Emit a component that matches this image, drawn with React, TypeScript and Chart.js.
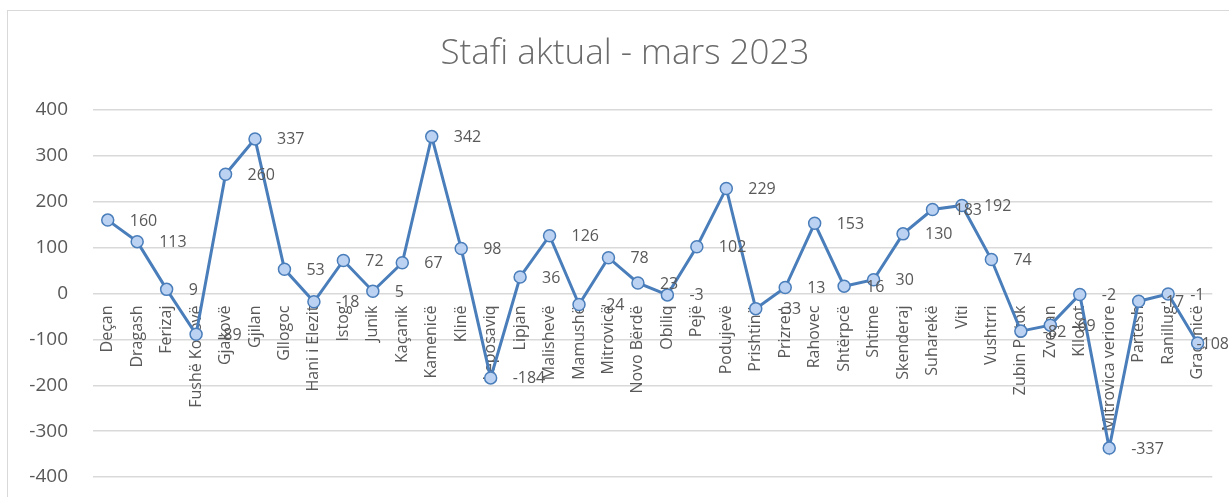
import React, { useEffect, useRef } from "react";
import { Chart, registerables } from "chart.js";

Chart.register(...registerables);

const TITLE = "Stafi aktual - mars 2023";

const categories = [
  "Deçan", "Dragash", "Ferizaj", "Fushë Kosovë", "Gjakovë", "Gjilan", "Gllogoc",
  "Hani i Elezit", "Istog", "Junik", "Kaçanik", "Kamenicë", "Klinë", "Leposaviq",
  "Lipjan", "Malishevë", "Mamushë", "Mitrovicë", "Novo Bërdë", "Obiliq", "Pejë",
  "Podujevë", "Prishtinë", "Prizren", "Rahovec", "Shtërpcë", "Shtime", "Skenderaj",
  "Suharekë", "Viti", "Vushtrri", "Zubin Potok", "Zveçan", "Kllokot",
  "Mitrovica veriore", "Partesh", "Ranillug", "Graçanicë",
];

const values = [
  160, 113, 9, -89, 260, 337, 53,
  -18, 72, 5, 67, 342, 98, -184,
  36, 126, -24, 78, 23, -3, 102,
  229, -33, 13, 153, 16, 30, 130,
  183, 192, 74, -82, -69, -2,
  -337, -17, -1, -108,
];

const yMin = -400;
const yMax = 400;
const yStep = 100;

const FONT = "'Open Sans', sans-serif";
const TEXT = "#595959";

const titlePlugin = {
  id: "customTitle",
  afterDraw(chart: any) {
    const ctx = chart.ctx;
    ctx.save();
    ctx.font = `300 35px ${FONT}`;
    ctx.fillStyle = "#6b6b6b";
    ctx.textAlign = "center";
    ctx.textBaseline = "middle";
    ctx.fillText(TITLE, 617, 43);
    ctx.restore();
  },
};

const dataLabelPlugin = {
  id: "valueLabels",
  afterDatasetsDraw(chart: any) {
    const ctx = chart.ctx;
    const meta = chart.getDatasetMeta(0);
    ctx.save();
    ctx.font = `16px ${FONT}`;
    ctx.fillStyle = TEXT;
    ctx.textAlign = "left";
    ctx.textBaseline = "middle";
    meta.data.forEach((pt: any, i: number) => {
      const txt = String(values[i]);
      const w = ctx.measureText(txt).width;
      const x = Math.min(pt.x + 22, chart.width - w);
      ctx.fillText(txt, x, pt.y + 1);
    });
    ctx.restore();
  },
};

export default function App() {
  const ref = useRef<HTMLCanvasElement | null>(null);

  useEffect(() => {
    if (!ref.current) return;
    const chart = new Chart(ref.current, {
      type: "line",
      data: {
        labels: categories,
        datasets: [
          {
            data: values,
            borderColor: "#4a7ebb",
            borderWidth: 3,
            pointRadius: 6,
            pointHoverRadius: 6,
            pointBackgroundColor: "#bcd2f2",
            pointBorderColor: "#4a7ebb",
            pointBorderWidth: 1.5,
            tension: 0,
            fill: false,
          },
        ],
      },
      options: {
        responsive: false,
        animation: false,
        layout: { padding: { left: 0, right: 16, top: 99, bottom: 20 } },
        plugins: {
          legend: { display: false },
          title: { display: false },
          tooltip: { enabled: false },
        },
        scales: {
          x: {
            type: "category",
            offset: true,
            position: { y: 0 } as any,
            grid: { display: false, drawTicks: false },
            border: { display: false },
            ticks: {
              autoSkip: false,
              maxRotation: 90,
              minRotation: 90,
              padding: 12,
              color: TEXT,
              font: { family: FONT, size: 16 },
            },
            afterFit: (s: any) => {
              s.height = 0;
            },
          },
          y: {
            min: yMin,
            max: yMax,
            grid: { color: "#d9d9d9", lineWidth: 1.5, drawTicks: false },
            border: { display: false },
            ticks: {
              stepSize: yStep,
              padding: 25,
              color: TEXT,
              font: { family: FONT, size: 19 },
            },
            afterFit: (s: any) => {
              s.width = 85;
              s.paddingTop = 10;
              s.paddingBottom = 10;
            },
          },
        },
      },
      plugins: [titlePlugin, dataLabelPlugin],
    });
    return () => chart.destroy();
  }, []);

  return (
    <div
      style={{
        position: "absolute",
        left: 7,
        top: 10,
        width: 1222,
        height: 487,
        borderLeft: "1px solid #d9d9d9",
        borderTop: "1px solid #d9d9d9",
        background: "#fff",
      }}
    >
      <canvas ref={ref} width={1221} height={486} style={{ display: "block" }} />
    </div>
  );
}
